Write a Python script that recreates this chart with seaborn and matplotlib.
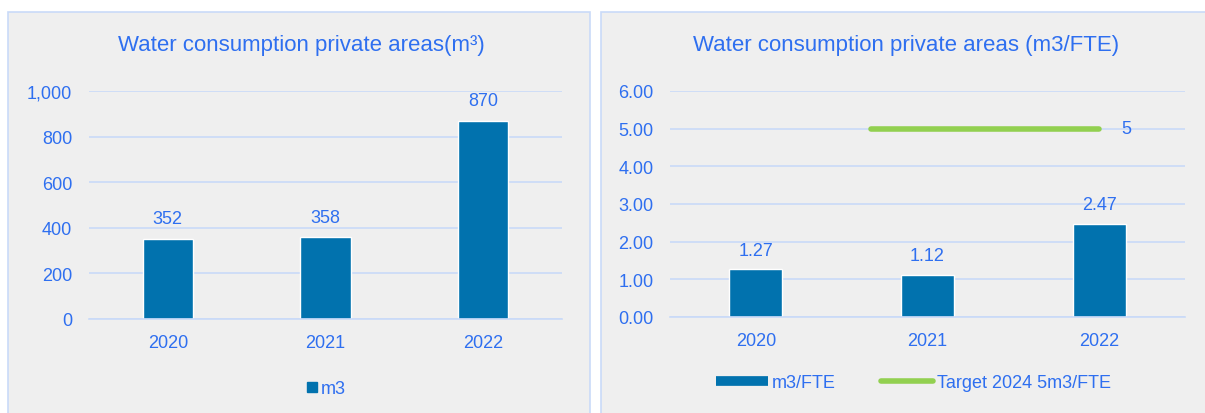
import matplotlib.pyplot as plt
import seaborn as sns
import pandas as pd
from matplotlib.lines import Line2D
from matplotlib.patches import Rectangle

# data
years = ["2020", "2021", "2022"]
water_m3 = [352, 358, 870]
water_per_fte = [1.27, 1.12, 2.47]
target_years = ["2021", "2022"]
target_values = [5, 5]

BLUE_TXT = "#2E6FF0"
BAR = "#0172AE"
GREEN = "#92D050"
GRID = "#C9DAF8"
PANEL = "#EFEFEF"
FS = 13

sns.set_theme(style="white")
plt.rcParams["font.family"] = ["Liberation Sans", "DejaVu Sans"]

fig = plt.figure(figsize=(12.05, 4.14), dpi=100)
fig.patch.set_facecolor("white")

# panel backgrounds with thin light-blue borders
for x0, w in [(8, 582), (601, 620)]:
    fig.patches.append(Rectangle((x0 / 1205, -0.05), w / 1205, 1.05 - 13 / 414,
                                 transform=fig.transFigure, facecolor=PANEL,
                                 edgecolor=GRID, linewidth=1.2, zorder=-5))

df1 = pd.DataFrame({"year": years, "value": water_m3})
df2 = pd.DataFrame({"year": years, "value": water_per_fte})


def style_axes(ax, ypad):
    ax.set_facecolor("none")
    ax.set_zorder(2)
    for s in ["top", "right", "left"]:
        ax.spines[s].set_visible(False)
    ax.spines["bottom"].set_color(GRID)
    ax.spines["bottom"].set_linewidth(1.2)
    ax.yaxis.grid(True, color=GRID, linewidth=1.2)
    ax.set_axisbelow(True)
    ax.tick_params(axis="both", length=0, colors=BLUE_TXT, labelsize=FS)
    ax.tick_params(axis="y", pad=ypad)
    ax.tick_params(axis="x", pad=11)
    ax.set_xlabel("")
    ax.set_ylabel("")


# ---- left chart ----
ax1 = fig.add_axes([89 / 1205, 1 - 320 / 414, 473 / 1205, 228 / 414])
sns.barplot(data=df1, x="year", y="value", color=BAR, width=0.32,
            saturation=1, ax=ax1)
style_axes(ax1, 12)
ax1.set_ylim(0, 1000)
ax1.set_yticks(range(0, 1001, 200))
ax1.set_yticklabels([f"{v:,}" for v in range(0, 1001, 200)])
for i, v in enumerate(water_m3):
    ax1.text(i, v + 52, f"{v}", ha="center", va="bottom", color=BLUE_TXT, fontsize=FS)
fig.text(301 / 1205, 1 - 46 / 414, "Water consumption private areas(m³)",
         ha="center", va="center", color=BLUE_TXT, fontsize=16)
ax1.legend(handles=[Line2D([], [], marker="s", linestyle="none", color=BAR,
                           markersize=7.5)],
           labels=["m3"], loc="center", bbox_to_anchor=(0.5, -0.305),
           frameon=False, handlelength=0.7, handletextpad=0.15,
           labelcolor=BLUE_TXT, fontsize=FS)

# ---- right chart ----
ax2 = fig.add_axes([670 / 1205, 1 - 318 / 414, 515 / 1205, 226 / 414])
sns.barplot(data=df2, x="year", y="value", color=BAR, width=0.31,
            saturation=1, ax=ax2)
style_axes(ax2, 12)
ax2.set_ylim(0, 6)
ax2.set_yticks(range(0, 7))
ax2.set_yticklabels([f"{v:.2f}" for v in range(0, 7)])
for i, v in enumerate(water_per_fte):
    ax2.text(i, v + 0.28, f"{v:.2f}", ha="center", va="bottom", color=BLUE_TXT, fontsize=FS)

# target line: starts a bit before the 2021 category
lead = 0.33
tx = [years.index(y) for y in target_years]
tx[0] -= lead
ax2.plot(tx, target_values, color=GREEN, linewidth=4, solid_capstyle="round", zorder=3)
ax2.text(tx[-1] + 0.16, target_values[-1], f"{target_values[-1]}", ha="center",
         va="center", color=BLUE_TXT, fontsize=FS)
ax2.set_xlim(-0.5, 2.5)

fig.text(906 / 1205, 1 - 46 / 414, "Water consumption private areas (m3/FTE)",
         ha="center", va="center", color=BLUE_TXT, fontsize=16)
ax2.legend(handles=[Line2D([], [], color=BAR, linewidth=7, solid_capstyle="butt"),
                    Line2D([], [], color=GREEN, linewidth=4, solid_capstyle="round")],
           labels=["m3/FTE", "Target 2024 5m3/FTE"], loc="center",
           bbox_to_anchor=(0.472, -0.29), ncol=2, frameon=False, handlelength=2.9,
           handletextpad=0.2, columnspacing=2.5, labelcolor=BLUE_TXT, fontsize=FS)

fig.savefig("out.png", dpi=100)
